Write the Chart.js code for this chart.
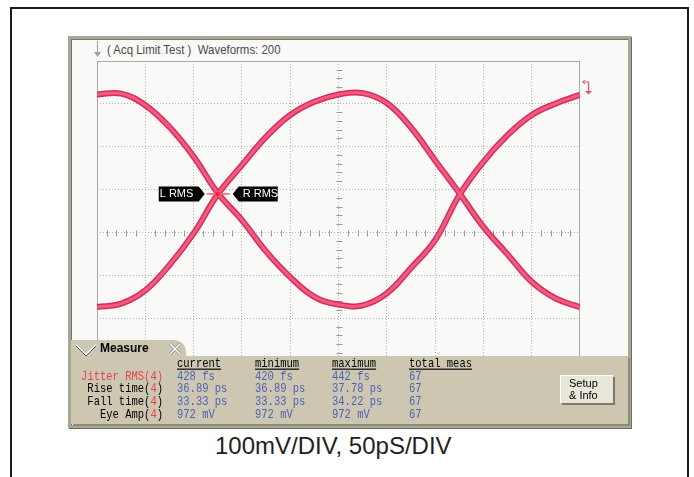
<!DOCTYPE html>
<html>
<head>
<meta charset="utf-8">
<script src="https://cdn.jsdelivr.net/npm/chart.js@4.4.0/dist/chart.umd.min.js"></script>
<style>
  body { margin: 0; width: 694px; height: 477px; background: #fff; position: relative; overflow: hidden; font-family: "Liberation Sans", Arial, sans-serif; }
  .frame { position: absolute; left: 10px; top: 7px; width: 675px; height: 490px; border: 2px solid #1c1c1c; }
  .scope { position: absolute; left: 68px; top: 36px; width: 557px; height: 386px; background: #f9f9f7; border: 3px solid #aaa694; box-shadow: inset 1px 1px 0 #77746a, 1px 1px 0 #6f6c61; }
  .title { position: absolute; left: 107px; top: 42px; font: 13px "Liberation Sans", Arial, sans-serif; color: #4a4a4a; white-space: nowrap; transform: scaleX(0.88); transform-origin: left top; }
  .plot { position: absolute; left: 97px; top: 61px; width: 483px; height: 343px; }
  .tab { position: absolute; left: 71px; top: 340px; width: 115px; height: 18px; background: #cdc7b1; border-top-right-radius: 12px; }
  .tab b { position: absolute; left: 29px; top: 1px; font: bold 12px "Liberation Sans", Arial, sans-serif; color: #000; }
  .panel { position: absolute; left: 71px; top: 356px; width: 557px; height: 68px; background: #cdc7b1; box-shadow: 2px 2px 0 #8e8a7a; }
  .mono { position: absolute; font: 10.5px "Liberation Mono", "DejaVu Sans Mono", monospace; white-space: nowrap; line-height: 12px; transform: scaleY(1.15); }
  .hdr { color: #000; text-decoration: underline; }
  .lbl { color: #000; text-align: right; width: 110px; }
  .val { color: #4d5fb8; }
  .red { color: #e8404a; }
  .btn { position: absolute; left: 560px; top: 375px; width: 44px; height: 26px; padding-left: 8px; background: #e9e7da; border-top: 1px solid #fff; border-left: 1px solid #fff; box-shadow: 2px 2px 0 #7d7a6c; font: 11px "Liberation Sans", Arial, sans-serif; line-height: 12px; color: #000; padding-top: 1px; }
  .caption { position: absolute; left: 215px; top: 432px; font: 24px "Liberation Sans", Arial, sans-serif; color: #231f20; white-space: nowrap; }
</style>
</head>
<body>
<div class="frame"></div>
<div class="scope"></div>
<svg style="position:absolute;left:92px;top:41px" width="12" height="18">
  <path d="M5.5 0 V14" stroke="#a0a0a0" stroke-width="1"/>
  <path d="M2 11 L5.5 16 L9 11 Z" fill="#a0a0a0"/>
</svg>
<div class="title">( Acq Limit Test )&nbsp; Waveforms: 200</div>
<div class="plot"><canvas id="eye"></canvas></div>
<svg style="position:absolute;left:580px;top:79px" width="14" height="16">
  <path d="M3 3 H8.5 V12" stroke="#f0506a" stroke-width="1.2" fill="none"/>
  <path d="M5 12 L8.5 15.5 L12 12 Z" fill="#f0506a"/>
  <path d="M5 1 L2.5 3 L5 5" stroke="#f0506a" stroke-width="1" fill="none"/>
</svg>
<div class="tab">
  <svg style="position:absolute;left:4px;top:3px" width="22" height="14"><path d="M1 2 L11 12 L21 2" stroke="#fff" stroke-width="2" fill="none"/><path d="M1 3 L11 13 L21 3" stroke="#555" stroke-width="1" fill="none"/></svg>
  <b>Measure</b>
  <svg style="position:absolute;left:97px;top:3px" width="14" height="13"><path d="M2 1 L12 11 M12 1 L2 11" stroke="#8a8a8a" stroke-width="3"/><path d="M2 1 L12 11 M12 1 L2 11" stroke="#fff" stroke-width="1.5"/></svg>
</div>
<div class="panel"></div>
<div id="measure"></div>
<div class="btn">Setup<br>&amp; Info</div>
<div class="caption">100mV/DIV, 50pS/DIV</div>

<script>
/******************************************* data **/
// time axis, 50 ps per division, 10 divisions
const timePs = [0, 25, 50, 75, 100, 125, 150, 175, 200, 225, 250, 275, 300, 325, 350, 375, 400, 425, 450, 475, 500];

// trace that starts high (mV)
const traceHigh = [322, 324, 297, 246, 177, 92, 29, -44, -104, -150, -168, -170, -142, -83, -18, 87, 165, 227, 274, 301, 321];

// trace that starts low (mV)
const traceLow = [-174, -166, -135, -76, -2, 89, 157, 223, 274, 305, 322, 325, 302, 245, 168, 92, 13, -51, -115, -154, -174];

// left eye crossing, where the RMS markers sit
const crossing = { x: 125, y: 90 };

// measurement table
const measHeaders = ["current", "minimum", "maximum", "total meas"];
const measNames = ["Jitter RMS", "Rise time", "Fall time", "Eye Amp"];
const measCurrent = ["428 fs", "36.89 ps", "33.33 ps", "972 mV"];
const measMinimum = ["420 fs", "36.89 ps", "33.33 ps", "972 mV"];
const measMaximum = ["442 fs", "37.78 ps", "34.22 ps", "972 mV"];
const measTotal = ["67", "67", "67", "67"];

/******************************************* measure table **/
const measure = document.getElementById("measure");
const colLeft = [177, 255, 332, 409];
const rowTop = 358;
const rowStep = 12.7;

measHeaders.forEach((h, c) => {
  measure.innerHTML += `<div class="mono hdr" style="left:${colLeft[c]}px;top:${rowTop}px">${h}</div>`;
});

const columns = [measCurrent, measMinimum, measMaximum, measTotal];
measNames.forEach((name, r) => {
  const top = rowTop + rowStep * (r + 1);
  // first row is all red, the others only have a red channel number
  const label = r === 0
    ? `<span class="red">${name}(4)</span>`
    : `${name}(<span class="red">4</span>)`;
  measure.innerHTML += `<div class="mono lbl" style="left:53px;top:${top}px">${label}</div>`;
  columns.forEach((col, c) => {
    measure.innerHTML += `<div class="mono val" style="left:${colLeft[c]}px;top:${top}px">${col[r]}</div>`;
  });
});

/******************************************* chart **/
const toPoints = (arr) => timePs.map((t, i) => ({ x: t, y: arr[i] }));

// center cross ticks, plot border and RMS markers
const scopeDecor = {
  id: "scopeDecor",
  beforeDatasetsDraw(chart) {
    const { ctx, chartArea: a, scales: { x, y } } = chart;
    ctx.save();
    ctx.strokeStyle = "#999";
    ctx.lineWidth = 1;
    ctx.beginPath();
    const cx = Math.round(x.getPixelForValue(250)) + 0.5;
    const cy = Math.round(y.getPixelForValue(0)) + 0.5;
    for (let t = 10; t < 500; t += 10) {
      if (t % 50 === 0) continue;
      const px = Math.round(x.getPixelForValue(t)) + 0.5;
      ctx.moveTo(px, cy - 3);
      ctx.lineTo(px, cy + 3);
    }
    for (let v = -380; v < 400; v += 20) {
      if (v % 100 === 0) continue;
      const py = Math.round(y.getPixelForValue(v)) + 0.5;
      ctx.moveTo(cx - 3, py);
      ctx.lineTo(cx + 3, py);
    }
    ctx.stroke();

    // plot border
    ctx.strokeStyle = "#a8a8a8";
    ctx.strokeRect(a.left + 0.5, a.top + 0.5, a.width - 1, a.height - 1);
    ctx.restore();
  },
  afterDatasetsDraw(chart) {
    const { ctx, scales: { x, y } } = chart;
    const px = x.getPixelForValue(crossing.x);
    const py = y.getPixelForValue(crossing.y);
    ctx.save();

    // little red level line at the crossing
    ctx.strokeStyle = "#f2606e";
    ctx.lineWidth = 1.5;
    ctx.beginPath();
    ctx.moveTo(px - 11, py);
    ctx.lineTo(px + 12, py);
    ctx.stroke();
    ctx.fillStyle = "#e8202e";
    ctx.beginPath();
    ctx.arc(px, py, 2, 0, Math.PI * 2);
    ctx.fill();

    // L RMS box pointing right
    ctx.fillStyle = "#000";
    ctx.beginPath();
    ctx.moveTo(px - 59, py - 7.5);
    ctx.lineTo(px - 19, py - 7.5);
    ctx.lineTo(px - 13, py);
    ctx.lineTo(px - 19, py + 7.5);
    ctx.lineTo(px - 59, py + 7.5);
    ctx.closePath();
    ctx.fill();

    // R RMS box pointing left
    ctx.beginPath();
    ctx.moveTo(px + 60, py - 7.5);
    ctx.lineTo(px + 21, py - 7.5);
    ctx.lineTo(px + 15, py);
    ctx.lineTo(px + 21, py + 7.5);
    ctx.lineTo(px + 60, py + 7.5);
    ctx.closePath();
    ctx.fill();

    ctx.fillStyle = "#fff";
    ctx.font = '11px "Liberation Sans", Arial, sans-serif';
    ctx.textBaseline = "middle";
    ctx.fillText("L RMS", px - 58, py + 0.5);
    ctx.fillText("R RMS", px + 25, py + 0.5);
    ctx.restore();
  },
};

const gridOpts = {
  color: "#b4b4b4",
  drawTicks: false,
};

new Chart(document.getElementById("eye"), {
  type: "line",
  data: {
    datasets: [
      { data: toPoints(traceHigh), borderColor: "#f35a7c", borderWidth: 3 },
      { data: toPoints(traceLow), borderColor: "#f35a7c", borderWidth: 3 },
      { data: toPoints(traceHigh), borderColor: "#da2c5c", borderWidth: 6 },
      { data: toPoints(traceLow), borderColor: "#da2c5c", borderWidth: 6 },
    ],
  },
  options: {
    responsive: true,
    maintainAspectRatio: false,
    animation: false,
    layout: { padding: 0 },
    elements: {
      point: { radius: 0 },
      line: { tension: 0.4, borderCapStyle: "butt" },
    },
    plugins: {
      legend: { display: false },
      tooltip: { enabled: false },
    },
    scales: {
      x: {
        type: "linear",
        min: 0,
        max: 500,
        ticks: { display: false, stepSize: 50 },
        grid: gridOpts,
        border: { display: false, dash: [1, 2] },
      },
      y: {
        min: -400,
        max: 400,
        ticks: { display: false, stepSize: 100 },
        grid: gridOpts,
        border: { display: false, dash: [1, 2] },
      },
    },
  },
  plugins: [scopeDecor],
});
</script>
</body>
</html>
